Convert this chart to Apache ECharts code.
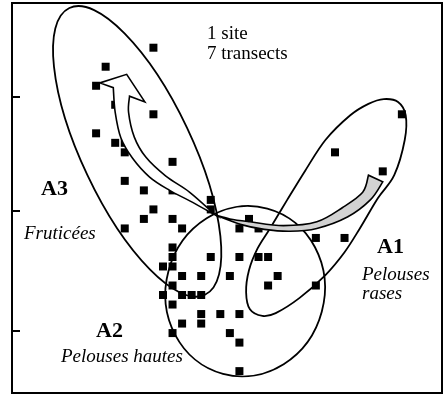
<!DOCTYPE html>
<html>
<head>
<meta charset="utf-8">
<script src="https://cdn.jsdelivr.net/npm/echarts@6/dist/echarts.min.js"></script>
<style>
  html, body { margin: 0; padding: 0; background: #fff; }
  #chart { width: 443px; height: 395px; }
</style>
</head>
<body>
<div id="chart"></div>
<script>
// Relevés on the ordination plane (axis 1, axis 2), one square each
const releves = [
  [14, 36], [9, 34], [8, 32], [10, 30], [14, 29], [8, 27], [10, 26], [11, 26],
  [11, 25], [16, 24], [11, 22], [13, 21], [16, 21], [20, 20], [20, 19], [14, 19],
  [13, 18], [16, 18], [17, 17], [11, 17], [24, 18], [23, 17], [25, 17], [31, 16],
  [34, 16], [16, 15], [16, 14], [20, 14], [23, 14], [25, 14], [26, 14], [15, 13],
  [16, 13], [17, 12], [19, 12], [22, 12], [27, 12], [16, 11], [26, 11], [31, 11],
  [15, 10], [17, 10], [18, 10], [19, 10], [16, 9], [19, 8], [21, 8], [23, 8],
  [17, 7], [19, 7], [16, 6], [22, 6], [23, 5], [23, 2],
  [40, 29], [33, 25], [38, 23]
];

// Axis extents and tick positions on the vertical axis
const xRange = [-0.8, 44.2];
const yRange = [-0.3, 40.7];
const yTicks = [6.2, 18.9, 30.8];

// Group envelopes: [centre x, centre y, semi-axis x, semi-axis y, rotation deg]
const envelopeA3 = [12.3, 25.1, 16.6, 5.8, -64.7];
const envelopeA2 = [23.6, 10.4, 8.3, 9.0, -15];

// A1 envelope outline (closed, smoothed)
const envelopeA1 = [
  [38.1, 30.6], [39.6, 30.3], [40.4, 28.9], [40.3, 26.3], [39.2, 22.6], [37.5, 20.2],
  [35.6, 17.0], [34.0, 14.5], [32.0, 12.1], [29.3, 9.7], [26.8, 8.1], [25.4, 7.8],
  [24.1, 8.5], [23.7, 10.3], [24.0, 12.6], [24.9, 14.9], [26.2, 17.0], [28.0, 20.0],
  [29.9, 23.1], [32.0, 26.3], [34.6, 28.9], [36.5, 30.1]
];

// Trajectory towards A3 (open arrow): outer edges and head
const arrowA3Right = [[20.5, 18.4], [17.8, 20.8], [15.3, 22.5], [13.2, 24.5], [12.0, 26.6], [11.4, 29.2], [11.5, 30.9]];
const arrowA3Head = [[13.1, 30.3], [11.2, 33.2], [8.4, 32.3], [9.8, 31.8]];
const arrowA3Left = [[9.8, 31.8], [10.0, 29.2], [10.6, 26.5], [11.8, 24.4], [13.6, 22.4], [15.7, 21.0], [17.8, 19.9], [20.5, 18.4]];

// Trajectory towards A1 (shaded band)
const arrowA1Lower = [[20.5, 18.4], [23.2, 17.4], [25.6, 16.9], [28.3, 16.7], [31.1, 17.0], [34.3, 18.2], [36.7, 20.0], [38.0, 21.9]];
const arrowA1Upper = [[36.5, 22.6], [35.9, 20.8], [33.8, 19.2], [31.1, 17.7], [27.6, 17.3], [24.1, 17.7], [22.0, 18.0], [20.5, 18.4]];

// Catmull-Rom spline through pixel points, as cubic Bezier segments
function splineSegments(pts, closed) {
  const n = pts.length;
  const at = i => closed ? pts[(i + n) % n] : pts[Math.max(0, Math.min(n - 1, i))];
  const segs = closed ? n : n - 1;
  let d = '';
  for (let i = 0; i < segs; i++) {
    const p0 = at(i - 1), p1 = at(i), p2 = at(i + 1), p3 = at(i + 2);
    const c1 = [p1[0] + (p2[0] - p0[0]) / 6, p1[1] + (p2[1] - p0[1]) / 6];
    const c2 = [p2[0] - (p3[0] - p1[0]) / 6, p2[1] - (p3[1] - p1[1]) / 6];
    d += ' C' + c1[0] + ',' + c1[1] + ' ' + c2[0] + ',' + c2[1] + ' ' + p2[0] + ',' + p2[1];
  }
  return d;
}

const chart = echarts.init(document.getElementById('chart'), null, { renderer: 'canvas' });

const ellipseItem = (params, api) => {
  const c = api.coord([api.value(0), api.value(1)]);
  const s = api.size([api.value(2), api.value(3)]);
  return {
    type: 'ellipse',
    x: c[0], y: c[1],
    rotation: api.value(4) * Math.PI / 180,
    shape: { cx: 0, cy: 0, rx: s[0], ry: s[1] },
    style: { fill: 'none', stroke: '#000', lineWidth: 1.8 }
  };
};

const toPx = (api, pts) => pts.map(p => api.coord(p));

const serifFont = '"Liberation Serif", "Times New Roman", serif';
const text = (str, x, y, style) => ({
  type: 'text', x, y, z: 100,
  style: Object.assign({ text: str, fill: '#000', textAlign: 'left', textVerticalAlign: 'middle', verticalAlign: 'middle' }, style)
});

chart.setOption({
  animation: false,
  grid: {
    left: 12, right: 1, top: 3, bottom: 2,
    show: true, borderColor: '#000', borderWidth: 2, backgroundColor: '#fff'
  },
  xAxis: {
    type: 'value', min: xRange[0], max: xRange[1],
    axisLine: { show: false }, axisTick: { show: false },
    axisLabel: { show: false }, splitLine: { show: false }
  },
  yAxis: {
    type: 'value', min: yRange[0], max: yRange[1],
    axisLine: { show: true, onZero: false, lineStyle: { color: '#000', width: 2 } },
    axisTick: { show: true, inside: true, length: 8, customValues: yTicks, lineStyle: { color: '#000', width: 2 } },
    axisLabel: { show: false }, splitLine: { show: false }
  },
  series: [
    {
      type: 'scatter',
      data: releves,
      symbol: 'rect',
      symbolSize: 8,
      itemStyle: { color: '#000', opacity: 1 },
      silent: true,
      z: 2
    },
    {
      type: 'custom',
      data: [envelopeA3, envelopeA2],
      renderItem: ellipseItem,
      silent: true,
      z: 3
    },
    {
      type: 'custom',
      data: [[0, 0]],
      silent: true,
      z: 3,
      renderItem: (params, api) => {
        const pts = toPx(api, envelopeA1);
        const d = 'M' + pts[0][0] + ',' + pts[0][1] + splineSegments(pts, true) + ' Z';
        return { type: 'path', shape: { pathData: d }, style: { fill: 'none', stroke: '#000', lineWidth: 1.8 } };
      }
    },
    {
      type: 'custom',
      data: [[0, 0]],
      silent: true,
      z: 4,
      renderItem: (params, api) => {
        // open arrow towards A3
        const r = toPx(api, arrowA3Right);
        const h = toPx(api, arrowA3Head);
        const l = toPx(api, arrowA3Left);
        let d = 'M' + r[0][0] + ',' + r[0][1] + splineSegments(r, false);
        h.forEach(p => { d += ' L' + p[0] + ',' + p[1]; });
        d += splineSegments(l, false) + ' Z';
        // shaded band towards A1
        const lo = toPx(api, arrowA1Lower);
        const up = toPx(api, arrowA1Upper);
        let d2 = 'M' + lo[0][0] + ',' + lo[0][1] + splineSegments(lo, false);
        d2 += ' L' + up[0][0] + ',' + up[0][1] + splineSegments(up, false) + ' Z';
        return {
          type: 'group',
          children: [
            { type: 'path', shape: { pathData: d2 }, style: { fill: '#d2d2d2', stroke: '#000', lineWidth: 1.6, lineJoin: 'miter' } },
            { type: 'path', shape: { pathData: d }, style: { fill: '#fff', stroke: '#000', lineWidth: 1.6, lineJoin: 'miter' } }
          ]
        };
      }
    }
  ],
  graphic: [
    text('1 site', 207, 33.6, { font: '19px ' + serifFont }),
    text('7 transects', 207, 53.6, { font: '19px ' + serifFont }),
    text('A3', 41, 189.6, { font: 'bold 22px ' + serifFont }),
    text('Fruticées', 24, 233.6, { font: 'italic 19px ' + serifFont }),
    text('A2', 96, 331.6, { font: 'bold 22px ' + serifFont }),
    text('Pelouses hautes', 61, 356.6, { font: 'italic 19px ' + serifFont }),
    text('A1', 377, 247.6, { font: 'bold 22px ' + serifFont }),
    text('Pelouses', 362, 274.6, { font: 'italic 19px ' + serifFont }),
    text('rases', 362, 293.6, { font: 'italic 19px ' + serifFont })
  ]
});
</script>
</body>
</html>
